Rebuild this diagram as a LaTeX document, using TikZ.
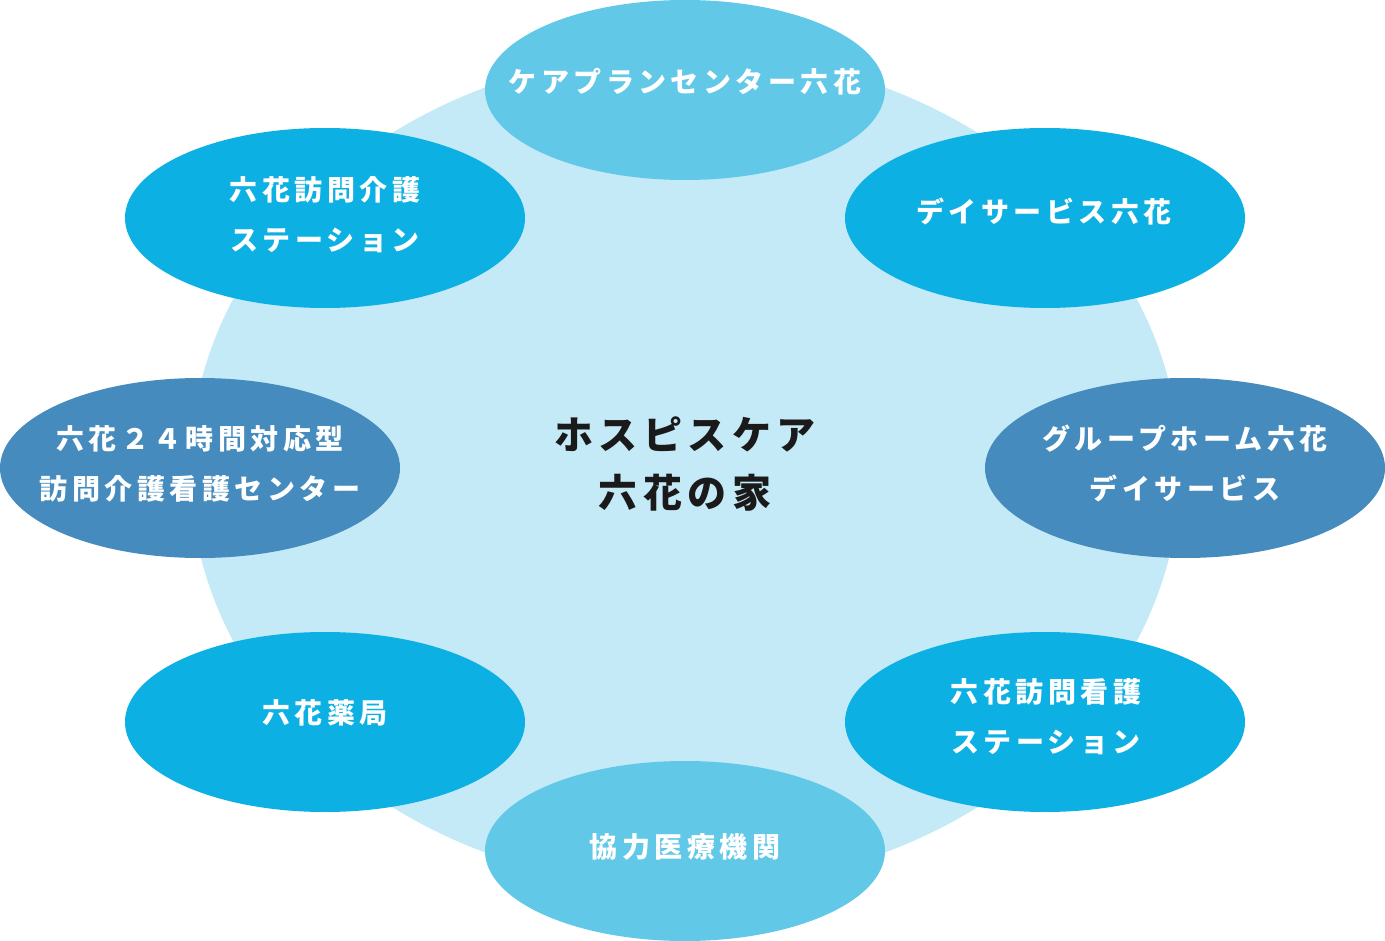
\documentclass[tikz,border=0pt]{standalone}
\usepackage{fontspec}
\setmainfont{Noto Sans CJK JP}
\usetikzlibrary{shapes.geometric}
\definecolor{bigc}{HTML}{C4E9F7}
\definecolor{pale}{HTML}{62C8E8}
\definecolor{mid}{HTML}{0CB0E2}
\definecolor{deep}{HTML}{458BBE}
\definecolor{ink}{HTML}{1A1A1A}
\tikzset{
  oval/.style={ellipse, inner sep=0pt, minimum width=400pt, minimum height=180pt, draw=none},
  lbl/.style={text=white, align=center, inner sep=0pt,
    font=\bfseries\addfontfeature{LetterSpace=16}\fontsize{28}{50}\selectfont},
  core/.style={text=ink, align=center, inner sep=0pt,
    font=\bfseries\addfontfeature{LetterSpace=14}\fontsize{39}{58}\selectfont},
}
\begin{document}
\begin{tikzpicture}[x=1pt,y=-1pt]
\useasboundingbox (0,0) rectangle (1385,941);
\node[ellipse, fill=bigc, inner sep=0pt, minimum width=990pt, minimum height=836pt] (hub) at (685,470) {};
\node[oval, fill=pale] (n1) at (685,90) {};
\node[oval, fill=mid] (n2) at (1045,218) {};
\node[oval, fill=deep] (n3) at (1185,468) {};
\node[oval, fill=mid] (n4) at (1045,722) {};
\node[oval, fill=pale] (n5) at (685,851) {};
\node[oval, fill=mid] (n6) at (325,722) {};
\node[oval, fill=deep] (n7) at (200,468) {};
\node[oval, fill=mid] (n8) at (325,218) {};
\node[core] (t0) at (685,464) {ホスピスケア\\六花の家};
\node[lbl] (t1) at (685,81.5) {ケアプランセンター六花};
\node[lbl] (t2) at (1044,211.5) {デイサービス六花};
\node[lbl] (t3) at (1185,463.5) {グループホーム六花\\デイサービス};
\node[lbl] (t4) at (1046,717) {六花訪問看護\\ステーション};
\node[lbl] (t5) at (685,847) {協力医療機関};
\node[lbl] (t6) at (325,713) {六花薬局};
\node[lbl] (t7) at (200,463.5) {六花２４時間対応型\\訪問介護看護センター};
\node[lbl] (t8) at (325,215) {六花訪問介護\\ステーション};
\end{tikzpicture}
\end{document}
